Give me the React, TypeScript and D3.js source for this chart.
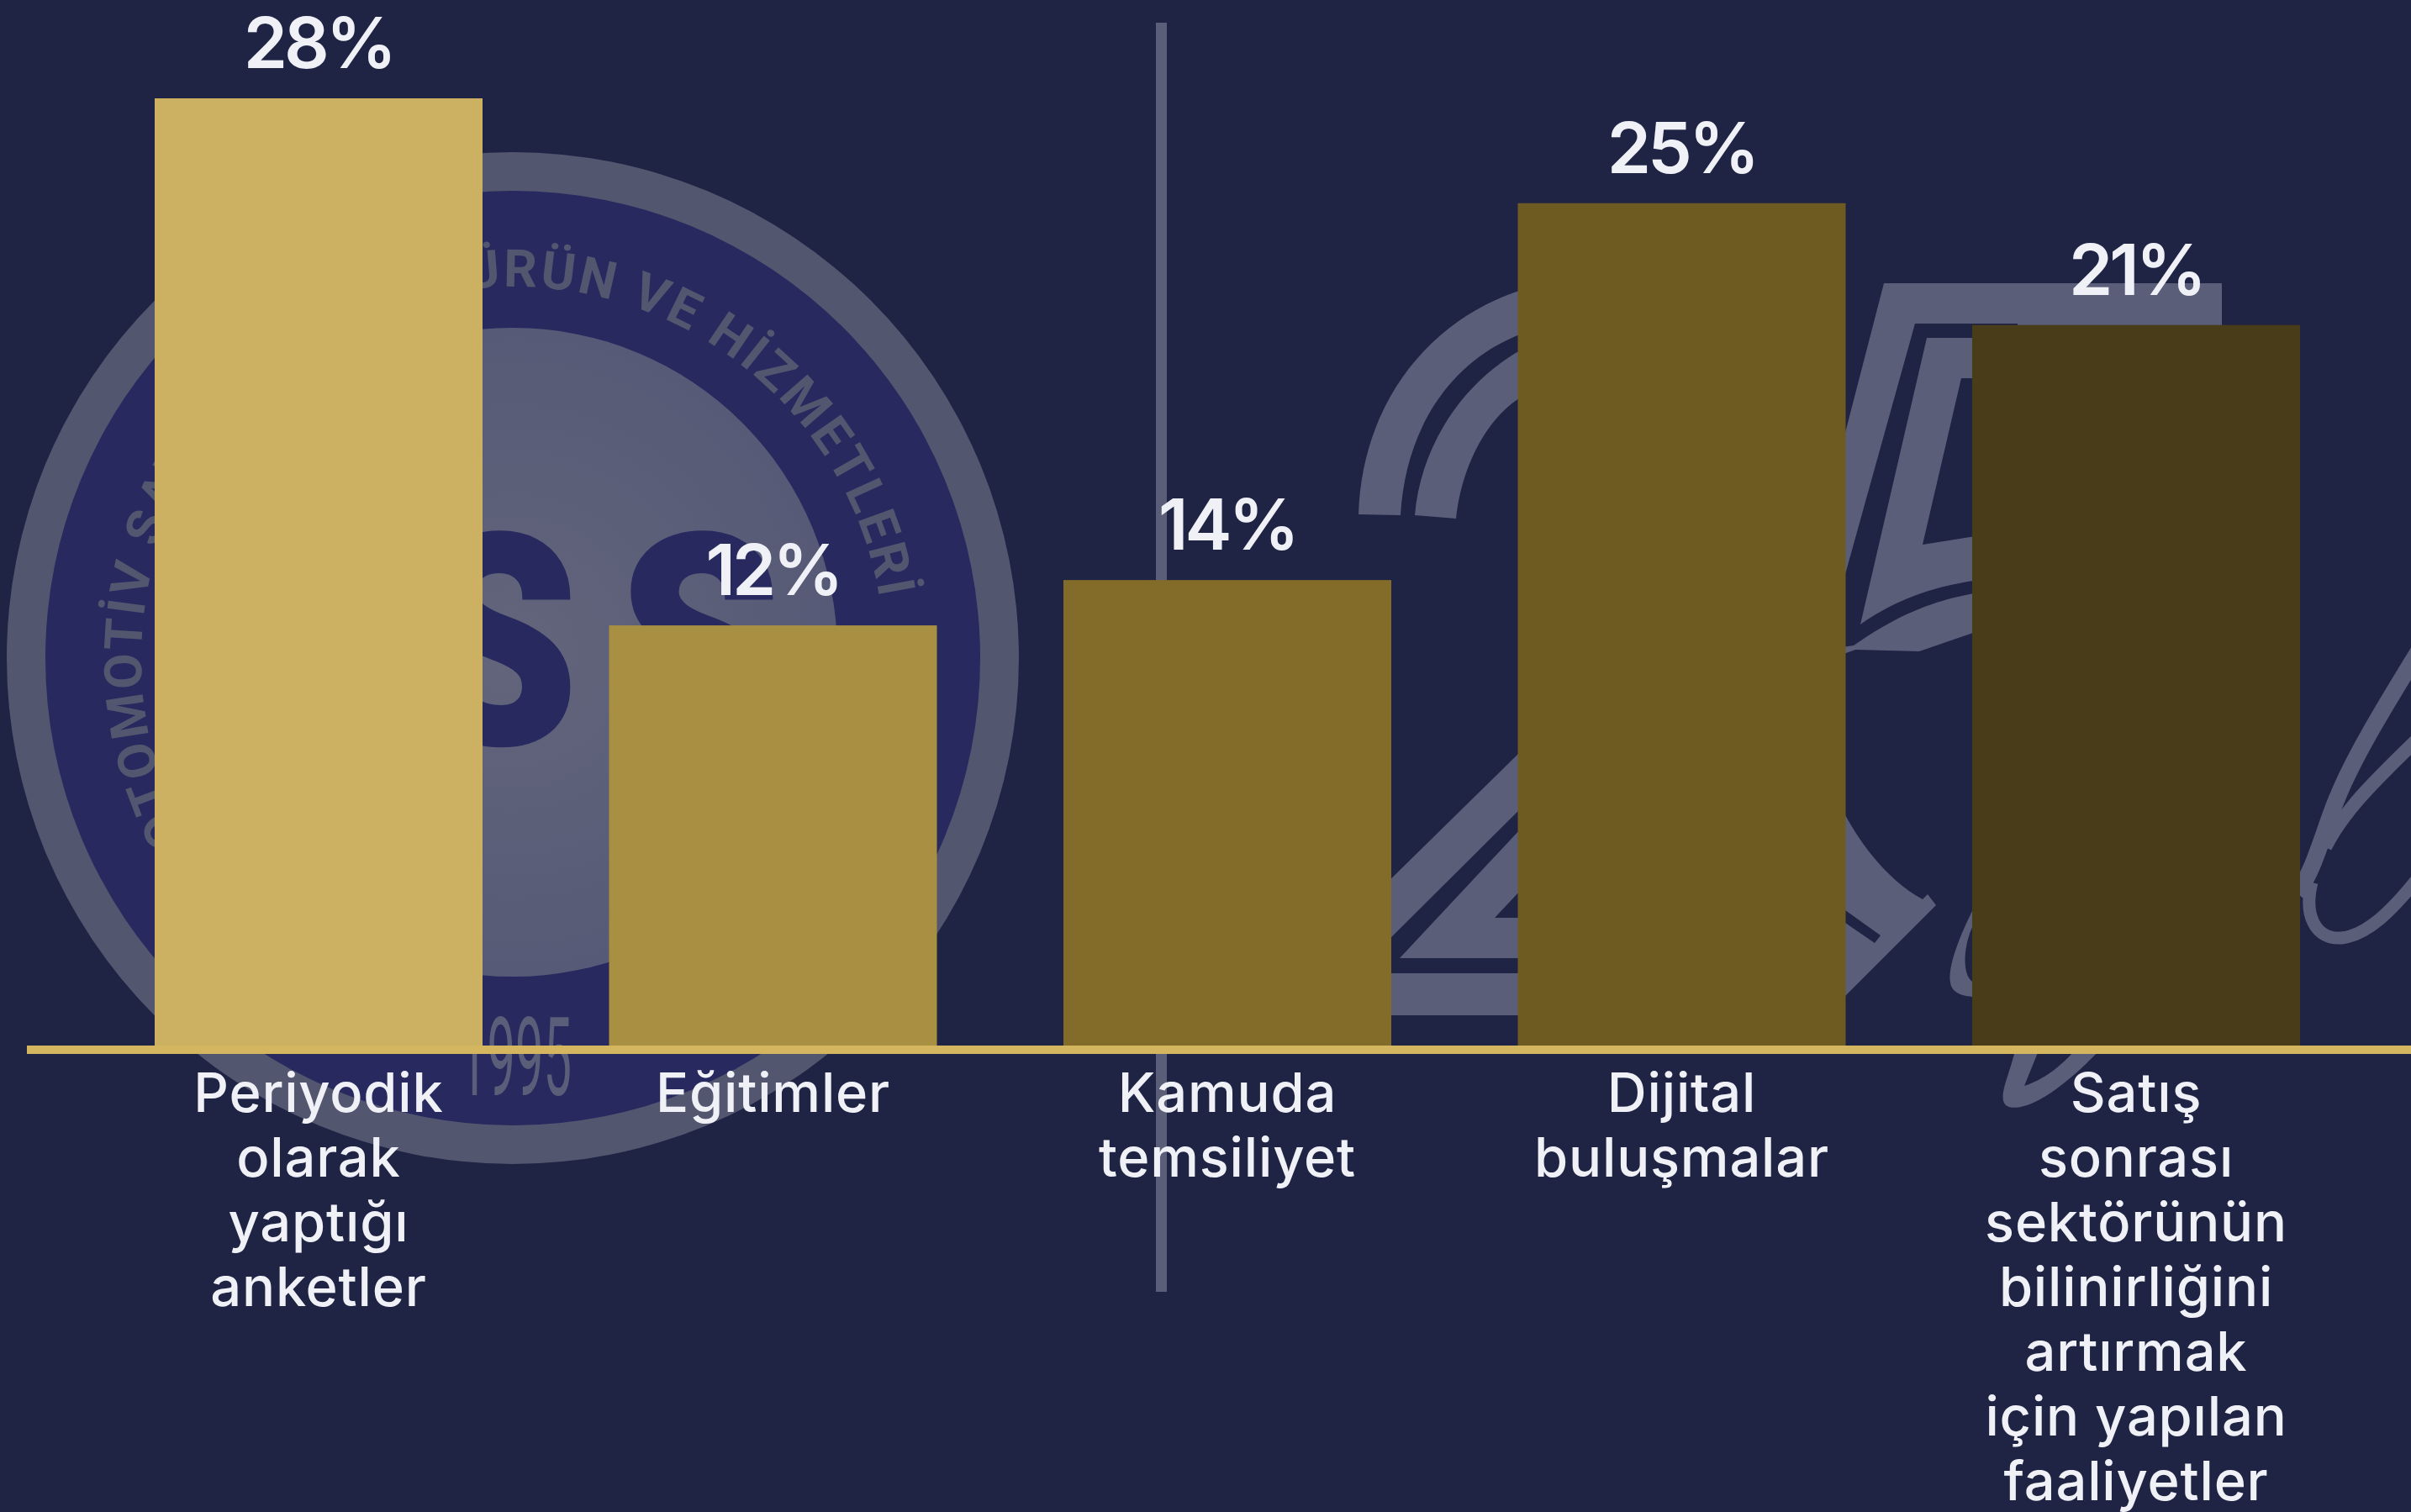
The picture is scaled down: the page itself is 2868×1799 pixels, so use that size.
import React from "react";
import * as d3 from "d3";

const WIDTH = 2868;
const HEIGHT = 1799;

const categories = ["Periyodik", "Eğitimler", "Kamuda", "Dijital", "Satış"];
const values = [28, 12.42, 13.76, 24.9, 21.3];
const barColors = ["#ccb162", "#a98f41", "#836c29", "#6e5b22", "#493c18"];
const labelLines = [
  ["Periyodik", "olarak", "yaptığı", "anketler"],
  ["Eğitimler"],
  ["Kamuda", "temsiliyet"],
  ["Dijital", "buluşmalar"],
  ["Satış", "sonrası", "sektörünün", "bilinirliğini", "artırmak", "için yapılan", "faaliyetler"],
];

const BG = "#1f2344";
const GREY = "#5a5e79";
const RING = "#53566f";
const NAVY = "#27295f";
const AXIS = "#d4b560";
const TEXT = "#eff1f7";
const FONT = "Inter, Lato, 'Noto Sans', sans-serif";

const x = d3.scaleBand<string>().domain(categories).range([184, 2736]).paddingInner(0.27845).paddingOuter(0);
const y = d3.scaleLinear().domain([0, 28]).range([1244, 117]);
const pct = d3.format(".0f");

const cx = 610;
const cy = 783;
const polar = (r: number, deg: number) => {
  const a = (deg * Math.PI) / 180;
  return [cx + r * Math.sin(a), cy - r * Math.cos(a)];
};
const [sx, sy] = polar(442, -119);
const [ex, ey] = polar(442, 82);
const ringTextPath = `M${sx},${sy} A442,442 0 1 1 ${ex},${ey}`;

function Watermark() {
  return (
    <g>
      {/* round logo */}
      <circle cx={cx} cy={cy} r={602} fill={RING} />
      <circle cx={cx} cy={cy} r={556} fill={NAVY} />
      <circle cx={cx} cy={776} r={386} fill="url(#innerGrad)" />
      <path id="ringPath" d={ringTextPath} fill="none" />
      <text fontFamily="Roboto, sans-serif" fontWeight={700} fontSize={62} fill={RING}>
        <textPath href="#ringPath" textLength={1540} lengthAdjust="spacing">
          OTOMOTİV SATIŞ SONRASI ÜRÜN VE HİZMETLERİ
        </textPath>
      </text>
      <g fontFamily="Roboto, sans-serif" fontWeight={900} fontSize={345} fill={NAVY} stroke={NAVY} strokeWidth={6} textAnchor="middle">
        <text transform="translate(591,883) scale(0.88,1)">S</text>
        <text transform="translate(832,883) scale(0.88,1)">S</text>
      </g>
      <text
        x={546}
        y={1303}
        fontFamily="Roboto, sans-serif"
        fontWeight={400}
        fontSize={130}
        fill={GREY}
        textLength={134}
        lengthAdjust="spacingAndGlyphs"
      >
        1995
      </text>

      {/* 25 logo */}
      <g fill={GREY}>
        <path d="M1616,612 C1620,480 1700,380 1810,345 L1810,397 C1725,430 1672,510 1666,613 Z" />
        <path d="M1683,613 C1690,530 1740,455 1810,416 L1810,472 C1765,500 1738,560 1732,617 Z" />
        <path d="M1640,1060 L1810,893 L1810,961 L1640,1130 Z" />
        <path d="M1665,1140 L1810,985 L1810,1140 Z" />
        <path d="M1640,1158 H1810 V1208 H1640 Z" />
        <path d="M2241,337 H2643 V400 H2400 V753 H2347 L2283,775 L2207,773 L2160,790 L2160,650 Z" />
        <path d="M2190,960 C2215,1010 2250,1050 2287,1070 L2293,1064 L2303,1077 L2190,1190 Z" />
      </g>
      <path d="M1778,1092 L1810,1058 V1092 Z" fill={BG} />
      <g fill={BG}>
        <path d="M2278,385 H2400 V402 H2292 L2213,743 C2260,710 2310,692 2400,685 L2400,700 C2310,706 2260,730 2205,768 L2170,773 Z" />
        <path d="M2333,450 H2400 V630 L2287,648 Z" />
        <path d="M2195,1083 L2237,1113 L2230,1122 L2195,1098 Z" />
      </g>
      <g fill="none" stroke={GREY} strokeLinecap="butt">
        <path d="M2732,1062 C2752,1040 2765,985 2780,950 C2800,900 2840,835 2880,770" strokeWidth={20} />
        <path d="M2766,1008 C2790,960 2835,920 2880,875" strokeWidth={16} />
        <path d="M2750,1050 C2740,1090 2755,1118 2785,1116 C2815,1113 2845,1085 2880,1040" strokeWidth={15} />
      </g>
      <path fill={GREY} d="M2350,1076 C2325,1125 2312,1165 2324,1178 C2330,1184 2340,1186 2350,1186 L2350,1170 C2332,1165 2335,1120 2350,1096 Z" />
      <path
        fill={GREY}
        fillRule="evenodd"
        d="M2397,1250 C2390,1280 2376,1305 2386,1315 C2400,1325 2440,1310 2497,1250 Z M2425,1250 L2408,1292 C2430,1285 2450,1270 2468,1250 Z"
      />
    </g>
  );
}

export default function App() {
  const barWidth = x.bandwidth();
  return (
    <svg
      width={WIDTH}
      height={HEIGHT}
      viewBox={`0 0 ${WIDTH} ${HEIGHT}`}
      style={{ position: "absolute", left: 0, top: 0, display: "block" }}
    >
      <defs>
        <radialGradient id="innerGrad" cx="50%" cy="50%" r="50%">
          <stop offset="0%" stopColor="#62657b" />
          <stop offset="100%" stopColor="#565a76" />
        </radialGradient>
      </defs>
      <rect width={WIDTH} height={HEIGHT} fill={BG} />
      <Watermark />

      <rect x={1375} y={27} width={13} height={1510} fill={GREY} />

      {categories.map((c, i) => (
        <rect key={c} x={x(c)} y={y(values[i])} width={barWidth} height={y(0) - y(values[i])} fill={barColors[i]} />
      ))}

      <rect x={32} y={y(0)} width={WIDTH - 32} height={10} fill={AXIS} />

      <g fontFamily={FONT} fill={TEXT} textAnchor="middle">
        {categories.map((c, i) => (
          <text key={c} x={x(c)! + barWidth / 2} y={y(values[i]) - 36} fontSize={84} fontWeight={600} letterSpacing={-4}>
            {pct(values[i])}%
          </text>
        ))}
        {categories.map((c, i) =>
          labelLines[i].map((line, j) => (
            <text key={line} x={x(c)! + barWidth / 2} y={1323 + j * 77} fontSize={65} fontWeight={500} letterSpacing={0.8}>
              {line}
            </text>
          )),
        )}
      </g>
    </svg>
  );
}
